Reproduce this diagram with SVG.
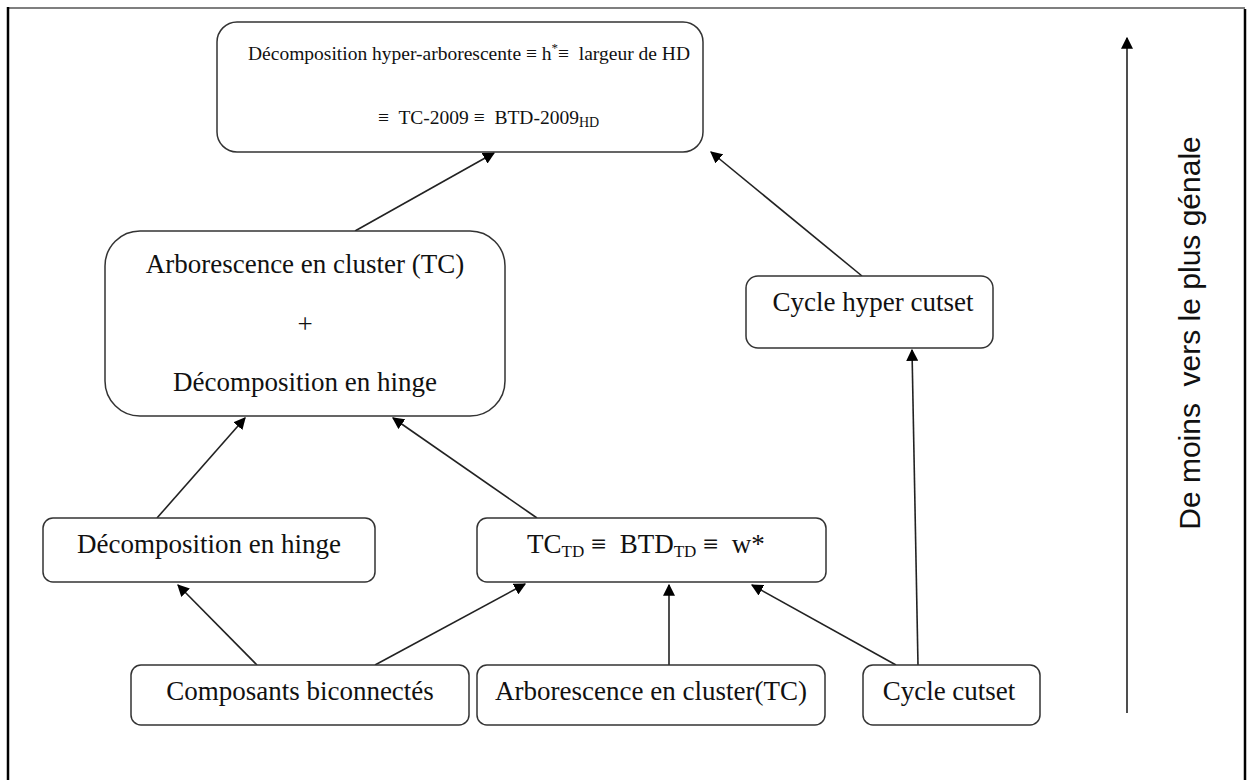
<svg xmlns="http://www.w3.org/2000/svg" width="1247" height="780" viewBox="0 0 1247 780">
  <style>
    .box { fill: #ffffff; stroke: #333333; stroke-width: 1.5; }
    .lbl { font-family: "Liberation Serif", "Times New Roman", serif; font-size: 27px; fill: #111111; }
    .top { font-size: 19.5px; }
    .sub { font-size: 17px; }
    .edge { stroke: #222222; stroke-width: 1.6; fill: none; marker-end: url(#head); }
    .side { font-family: "Liberation Sans", Arial, sans-serif; font-size: 30px; fill: #111111; }
  </style>
  <defs>
    <marker id="head" viewBox="0 0 10 10" refX="9" refY="5" markerWidth="7.5" markerHeight="7.5" markerUnits="strokeWidth" orient="auto">
      <path d="M0,0 L10,5 L0,10 z" fill="#000000"/>
    </marker>
  </defs>

  <rect width="1247" height="780" fill="#ffffff"/>

  <!-- page frame -->
  <g id="frame" stroke="#000000" fill="none">
    <line x1="8" y1="8" x2="1245" y2="8" stroke-width="1.2"/>
    <line x1="8" y1="7" x2="8" y2="780" stroke-width="2.5"/>
    <line x1="1245" y1="9" x2="1245" y2="780" stroke-width="2.5"/>
  </g>

  <!-- connectors -->
  <g id="connectors">
    <line class="edge" x1="355" y1="231" x2="494" y2="153"/>
    <line class="edge" x1="862" y1="276" x2="711" y2="152"/>
    <line class="edge" x1="157" y1="518" x2="245" y2="418"/>
    <line class="edge" x1="537" y1="518" x2="393" y2="418"/>
    <line class="edge" x1="257" y1="665" x2="178" y2="585"/>
    <line class="edge" x1="375" y1="665" x2="525" y2="584"/>
    <line class="edge" x1="669" y1="665" x2="669" y2="585"/>
    <line class="edge" x1="896" y1="665" x2="752" y2="585"/>
    <line class="edge" x1="918" y1="665" x2="912" y2="350"/>
    <line class="edge" x1="1127" y1="713" x2="1127" y2="38"/>
  </g>

  <g id="n-hd">
    <rect class="box" x="217" y="22" width="486" height="130" rx="20"/>
    <text class="lbl top" x="248" y="60" xml:space="preserve">Décomposition hyper-arborescente ≡ h<tspan font-size="13" dy="-8">*</tspan><tspan dy="8">≡  largeur de HD</tspan></text>
    <text class="lbl top" x="378" y="124" xml:space="preserve">≡  TC-2009 ≡  BTD-2009<tspan font-size="14" dy="3">HD</tspan></text>
  </g>

  <g id="n-tc-hinge">
    <rect class="box" x="105" y="231" width="400" height="185" rx="35"/>
    <text class="lbl" x="305" y="273" text-anchor="middle">Arborescence en cluster (TC)</text>
    <text class="lbl" x="305" y="333" text-anchor="middle">+</text>
    <text class="lbl" x="305" y="391" text-anchor="middle">Décomposition en hinge</text>
  </g>

  <g id="n-cycle-hyper">
    <rect class="box" x="746" y="276" width="247" height="72" rx="12"/>
    <text class="lbl" x="873" y="311" text-anchor="middle">Cycle hyper cutset</text>
  </g>

  <g id="n-hinge">
    <rect class="box" x="43" y="518" width="332" height="64" rx="10"/>
    <text class="lbl" x="209" y="553" text-anchor="middle">Décomposition en hinge</text>
  </g>

  <g id="n-td">
    <rect class="box" x="477" y="518" width="349" height="64" rx="10"/>
    <text class="lbl" x="527" y="553" xml:space="preserve">TC<tspan class="sub" dy="4">TD</tspan><tspan dy="-4"> ≡  BTD</tspan><tspan class="sub" dy="4">TD</tspan><tspan dy="-4"> ≡  w*</tspan></text>
  </g>

  <g id="n-bicon">
    <rect class="box" x="131" y="665" width="338" height="60" rx="10"/>
    <text class="lbl" x="300" y="700" text-anchor="middle">Composants biconnectés</text>
  </g>

  <g id="n-cluster">
    <rect class="box" x="477" y="665" width="348" height="60" rx="10"/>
    <text class="lbl" x="651" y="700" text-anchor="middle">Arborescence en cluster(TC)</text>
  </g>

  <g id="n-cutset">
    <rect class="box" x="863" y="665" width="177" height="60" rx="10"/>
    <text class="lbl" x="949" y="700" text-anchor="middle">Cycle cutset</text>
  </g>

  <g id="axis-label">
    <text class="side" transform="translate(1200,333) rotate(-90)" text-anchor="middle" xml:space="preserve">De moins  vers le plus génale</text>
  </g>
</svg>
